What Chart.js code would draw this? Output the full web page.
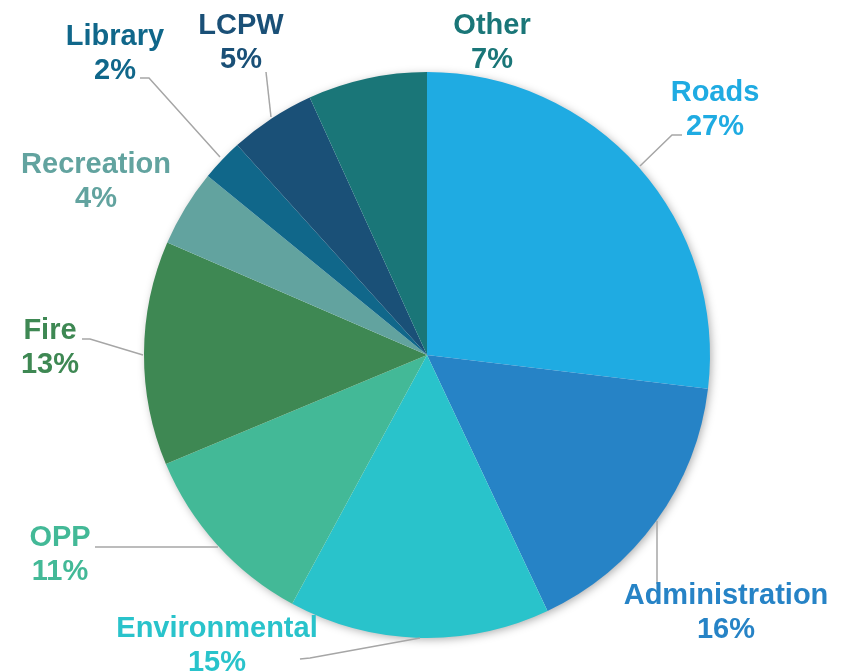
<!DOCTYPE html>
<html>
<head>
<meta charset="utf-8">
<script src="https://cdn.jsdelivr.net/npm/chart.js@4/dist/chart.umd.min.js"></script>
<style>
  html, body { margin: 0; padding: 0; background: #ffffff; }
  #wrap { width: 850px; height: 672px; position: relative; }
</style>
</head>
<body>
<div id="wrap"><canvas id="c" width="850" height="672"></canvas></div>
<script>
// ---- data ----
const categories = ["Roads", "Administration", "Environmental", "OPP", "Fire", "Recreation", "Library", "LCPW", "Other"];
const shares = [26.9, 16.1, 14.9, 10.8, 12.8, 4.4, 2.4, 4.9, 6.8];
const percentLabels = ["27%", "16%", "15%", "11%", "13%", "4%", "2%", "5%", "7%"];
const sliceColors = ["#1FABE2", "#2683C6", "#29C3CB", "#43B997", "#3E8853", "#62A39F", "#10678A", "#1A5077", "#1A7678"];

// ---- layout of labels (x centre, baseline of first line) ----
const labelPos = [
  [715, 101], [726, 604], [217, 637], [60, 546], [50, 339],
  [96, 173], [115, 45], [241, 34], [492, 34]
];
// leader line polylines
const leaders = [
  [[682, 135], [672, 135], [640, 166]],
  [[657, 584], [657, 521]],
  [[300, 659], [310, 658], [420, 638]],
  [[95, 547], [218, 547]],
  [[82, 339], [90, 339], [143, 355]],
  null,
  [[140, 78], [149, 78], [220, 157]],
  [[266, 72], [271, 117]],
  null
];

const FONT = "bold 29px 'Liberation Sans', Arial, sans-serif";

const shadowPlugin = {
  id: 'shadow',
  beforeDatasetsDraw(chart) {
    const arc = chart.getDatasetMeta(0).data[0];
    if (!arc) return;
    const ctx = chart.ctx;
    ctx.save();
    ctx.shadowColor = 'rgba(0,0,0,0.35)';
    ctx.shadowBlur = 10;
    ctx.shadowOffsetX = 2;
    ctx.shadowOffsetY = 2;
    ctx.fillStyle = '#ffffff';
    ctx.beginPath();
    ctx.arc(arc.x, arc.y, arc.outerRadius - 1, 0, Math.PI * 2);
    ctx.fill();
    ctx.restore();
  }
};

const labelPlugin = {
  id: 'labels',
  afterDatasetsDraw(chart) {
    const ctx = chart.ctx;
    ctx.save();
    ctx.strokeStyle = '#A6A6A6';
    ctx.lineWidth = 1.5;
    leaders.forEach(l => {
      if (!l) return;
      ctx.beginPath();
      ctx.moveTo(l[0][0], l[0][1]);
      for (let i = 1; i < l.length; i++) ctx.lineTo(l[i][0], l[i][1]);
      ctx.stroke();
    });
    ctx.font = FONT;
    ctx.textAlign = 'center';
    ctx.textBaseline = 'alphabetic';
    categories.forEach((name, i) => {
      const [x, y] = labelPos[i];
      ctx.fillStyle = sliceColors[i];
      ctx.fillText(name, x, y);
      ctx.fillText(percentLabels[i], x, y + 34);
    });
    ctx.restore();
  }
};

new Chart(document.getElementById('c'), {
  type: 'pie',
  data: {
    labels: categories,
    datasets: [{
      data: shares,
      backgroundColor: sliceColors,
      borderWidth: 0
    }]
  },
  options: {
    responsive: false,
    animation: false,
    layout: { padding: { top: 72, bottom: 34, left: 4, right: 0 } },
    plugins: {
      legend: { display: false },
      tooltip: { enabled: false }
    },
    events: []
  },
  plugins: [shadowPlugin, labelPlugin]
});
</script>
</body>
</html>
